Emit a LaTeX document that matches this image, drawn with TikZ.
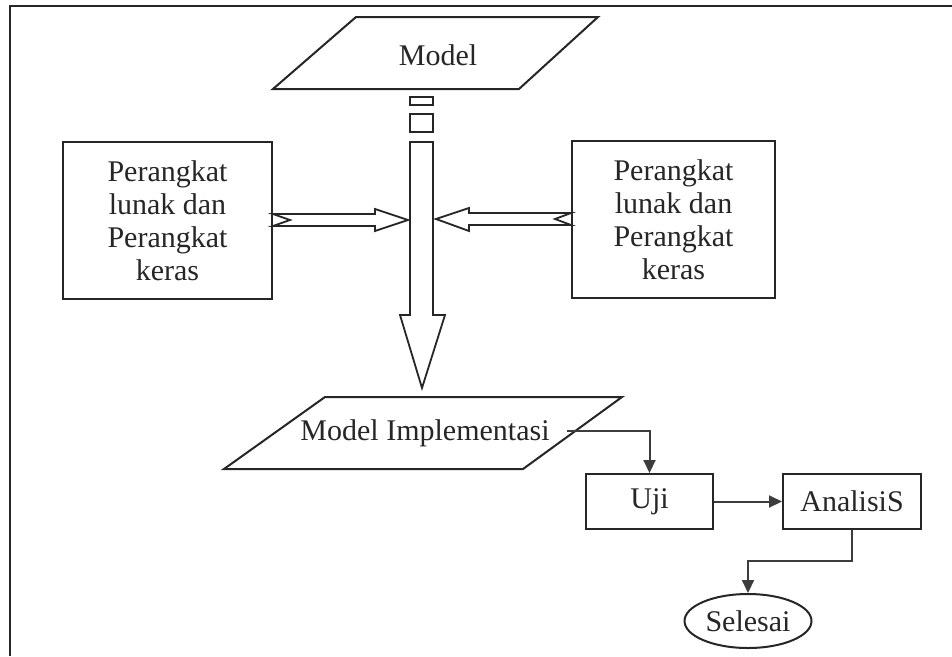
\documentclass[tikz,border=0pt]{standalone}
\usepackage{fontspec}
\setmainfont{Liberation Serif}
\usetikzlibrary{shapes.geometric,arrows.meta,calc}
\definecolor{ink}{HTML}{262626}
\definecolor{wire}{HTML}{3C3C3C}
\begin{document}
\begin{tikzpicture}[x=1pt,y=-1pt,
  line join=miter,
  outline/.style={draw=ink,line width=2pt},
  hollow/.style={draw=ink,line width=1.8pt,fill=white},
  label/.style={text=ink,font=\fontsize{30}{33}\selectfont,align=center,inner sep=0pt},
  box/.style={outline,fill=white,minimum width=#1,inner sep=0pt},
  flow/.style={draw=wire,line width=2pt,-{Triangle[length=13pt,width=12pt]}}]
\useasboundingbox (0,0) rectangle (952,656);
\fill[white] (0,0) rectangle (952,656);
% outer frame (top and left edges)
\draw[ink,line width=2.4pt] (952,6) -- (10,6) -- (10,656);

% input and output data (parallelograms)
\draw[outline] (356,17) -- (598,17) -- (519,89) -- (273,89) -- cycle;
\node[label] (model) at (438,55) {Model};
\draw[outline] (325,397) -- (622,397) -- (523,469) -- (224,469) -- cycle;
\node[label,anchor=base] (impl) at (425,440) {Model Implementasi};
\coordinate (implR) at (567,431);

% side boxes
\node[box=209pt,minimum height=157pt] (hwL) at (167.5,220.5) {};
\node[label] at (hwL) {Perangkat\\lunak dan\\Perangkat\\keras};
\node[box=203pt,minimum height=157pt] (hwR) at (673.5,219.5) {};
\node[label] at (hwR) {Perangkat\\lunak dan\\Perangkat\\keras};

% central broken shaft and big hollow arrow
\draw[hollow] (410,97) rectangle (433,105);
\draw[hollow] (410,114) rectangle (433,132);
\draw[hollow] (410,142) -- (433,142) -- (433,315) -- (445,315) -- (422,388)
  -- (400,315) -- (410,315) -- cycle;

% hollow arrows from the side boxes into the shaft
\draw[hollow] (hwL.east |- 0,214) -- (375,214) -- (375,209) -- (408,220)
  -- (375,231) -- (375,226) -- (hwL.east |- 0,226) -- (290,220) -- cycle;
\draw[hollow] (hwR.west |- 0,213) -- (469,213) -- (469,208) -- (436,219)
  -- (469,231) -- (469,225) -- (hwR.west |- 0,225) -- (555,219) -- cycle;

% test, analysis, finish
\node[box=127pt,minimum height=55pt] (uji) at (649.5,501.5) {};
\node[label] at (uji) {Uji};
\node[box=138pt,minimum height=55pt] (anal) at (852,501.5) {};
\node[label] at (anal) {AnalisiS};
\node[outline,ellipse,fill=white,minimum width=127pt,minimum height=54pt,inner sep=0pt] (end) at (748,621) {};
\node[label] at (end) {Selesai};

\draw[flow] (implR) -| (uji.north);
\draw[flow] (uji.east) -- (anal.west);
\draw[flow] (anal.south) |- (748,561) -- (end.north);
\end{tikzpicture}
\end{document}
